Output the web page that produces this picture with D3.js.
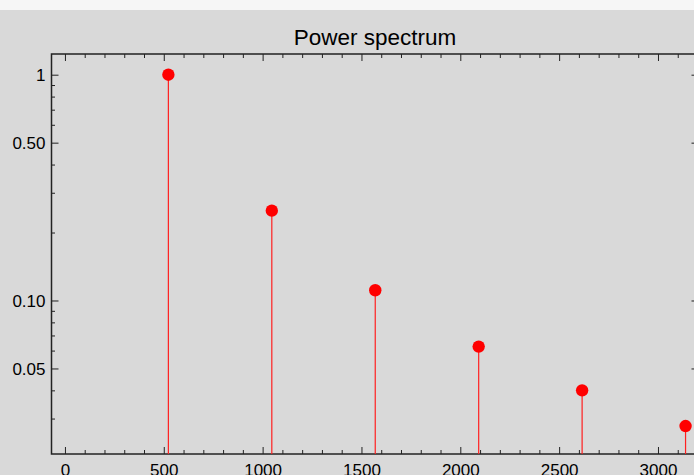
<!DOCTYPE html>
<html>
<head>
<meta charset="utf-8">
<script src="https://cdn.jsdelivr.net/npm/d3@7"></script>
<style>
  html, body { margin: 0; padding: 0; overflow: hidden; background: #f6f6f6; }
  svg { display: block; font-family: "Liberation Sans", Arial, sans-serif; }
</style>
</head>
<body>
<div id="canvas"></div>
<script>
// harmonics of the power spectrum
const freqs = [523.25, 1046.5, 1569.75, 2093, 2616.25, 3139.5];
const power = [1, 0.25, 0.111, 0.0625, 0.04, 0.0278];

const xTicks = [0, 500, 1000, 1500, 2000, 2500, 3000];
const xMinor = d3.range(-0, 3201, 100).filter(d => d % 500 !== 0);
const yTicks = [1, 0.5, 0.1, 0.05];
const yLabels = ["1", "0.50", "0.10", "0.05"];
const yMinor = [0.9, 0.8, 0.7, 0.6, 0.4, 0.3, 0.2, 0.09, 0.08, 0.07, 0.06, 0.04, 0.03];

const width = 694;
const height = 475;
const plot = { left: 51.5, right: 698.5, top: 54, bottom: 454 };

const svg = d3.select("#canvas").append("svg")
  .attr("width", width)
  .attr("height", height);

svg.append("rect")
  .attr("x", 0).attr("y", 10)
  .attr("width", width).attr("height", height - 10)
  .style("fill", "#d9d9d9");

const x = d3.scaleLinear().domain([-68, 3205]).range([plot.left, plot.right]);
const y = d3.scaleLog().domain([0.0209, 1.235]).range([plot.bottom, plot.top]);

const g = svg.append("g");

function styleAxis(sel) {
  sel.select(".domain").remove();
  sel.selectAll("line").style("stroke", "#222").style("stroke-width", 1);
  sel.selectAll("text").style("fill", "#000").style("font-size", "17px")
    .style("font-family", "'Liberation Sans', Arial, sans-serif");
}

// bottom
g.append("g").attr("transform", `translate(0, ${plot.bottom})`)
  .call(d3.axisTop(x).tickValues(xTicks).tickSize(7).tickFormat(d => d).tickPadding(-28.5))
  .call(styleAxis);
g.append("g").attr("transform", `translate(0, ${plot.bottom})`)
  .call(d3.axisTop(x).tickValues(xMinor).tickSize(4).tickFormat(""))
  .call(styleAxis);
// top
g.append("g").attr("transform", `translate(0, ${plot.top})`)
  .call(d3.axisBottom(x).tickValues(xTicks).tickSize(7).tickFormat(""))
  .call(styleAxis);
g.append("g").attr("transform", `translate(0, ${plot.top})`)
  .call(d3.axisBottom(x).tickValues(xMinor).tickSize(4).tickFormat(""))
  .call(styleAxis);
// left
g.append("g").attr("transform", `translate(${plot.left}, 0)`)
  .call(d3.axisRight(y).tickValues(yTicks).tickSize(7)
    .tickFormat((d, i) => yLabels[i]).tickPadding(-13))
  .call(styleAxis)
  .selectAll("text").attr("text-anchor", "end").attr("dy", "0.36em");
g.append("g").attr("transform", `translate(${plot.left}, 0)`)
  .call(d3.axisRight(y).tickValues(yMinor).tickSize(3.5).tickFormat(""))
  .call(styleAxis);
// right
g.append("g").attr("transform", `translate(${plot.right}, 0)`)
  .call(d3.axisLeft(y).tickValues(yTicks).tickSize(7).tickFormat(""))
  .call(styleAxis);
g.append("g").attr("transform", `translate(${plot.right}, 0)`)
  .call(d3.axisLeft(y).tickValues(yMinor).tickSize(3.5).tickFormat(""))
  .call(styleAxis);

// frame
g.append("rect")
  .attr("x", plot.left).attr("y", plot.top)
  .attr("width", plot.right - plot.left).attr("height", plot.bottom - plot.top)
  .style("fill", "none").style("stroke", "#222").style("stroke-width", 1.5);

const data = freqs.map((f, i) => ({ f: f, p: power[i] }));

g.selectAll(".stem").data(data).enter()
  .append("line")
  .attr("class", "stem")
  .attr("x1", d => x(d.f)).attr("x2", d => x(d.f))
  .attr("y1", d => y(d.p)).attr("y2", plot.bottom)
  .style("stroke", "#ff2020").style("stroke-width", 1.2);

g.selectAll(".dot").data(data).enter()
  .append("circle")
  .attr("class", "dot")
  .attr("cx", d => x(d.f)).attr("cy", d => y(d.p))
  .attr("r", 6.2)
  .style("fill", "#ff0000");

svg.append("text")
  .attr("x", (plot.left + plot.right) / 2)
  .attr("y", 45.3)
  .attr("text-anchor", "middle")
  .style("font-size", "22.5px")
  .style("fill", "#000")
  .text("Power spectrum");
</script>
</body>
</html>
